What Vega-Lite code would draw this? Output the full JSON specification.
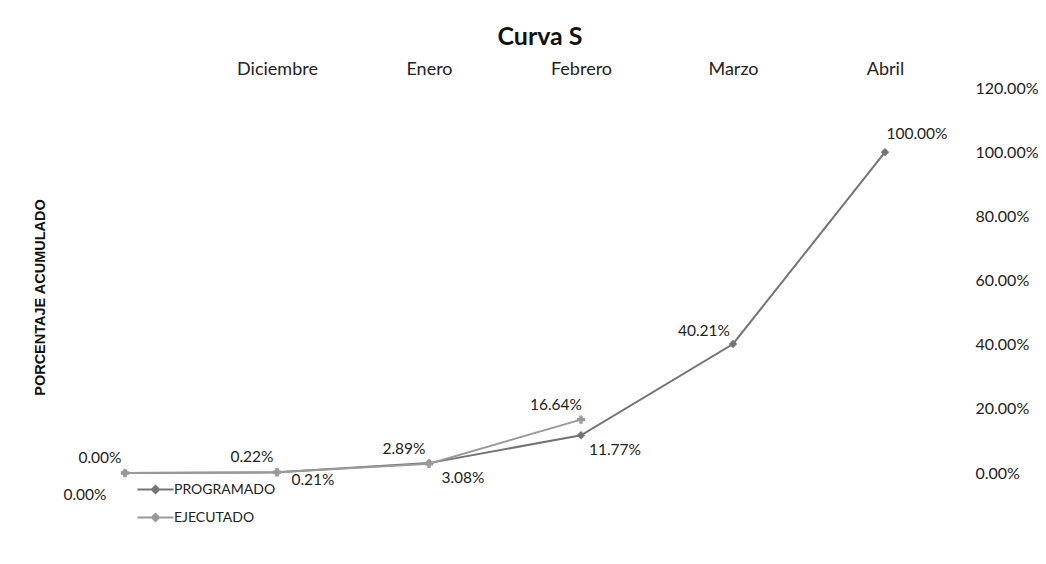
{
  "$schema": "https://vega.github.io/schema/vega-lite/v6.json",
  "width": 912,
  "height": 385,
  "autosize": {"type": "none"},
  "padding": {"left": 49, "top": 88, "right": 85, "bottom": 91},
  "background": "white",
  "config": {"view": {"stroke": null}, "font": "Lato",
    "legend": {"title": null, "orient": "none", "legendX": 93, "legendY": 388, "direction": "vertical", "labelFontSize": 14, "labelFont": "Lato", "labelColor": "#222", "symbolSize": 580, "rowPadding": 6, "symbolStrokeWidth": 2, "labelOffset": 5,
      "symbolType": "M-1.5,0L1.5,0M-0.3,0L0,-0.3L0.3,0L0,0.3Z"}},
  "title": {"text": "Curva S", "font": "Lato", "fontSize": 25, "fontWeight": "bold", "color": "#111", "anchor": "middle", "dx": 35, "offset": 10},
  "data": {"values": [
    {"mes": "Inicio", "serie": "PROGRAMADO", "valor": 0},
    {"mes": "Diciembre", "serie": "PROGRAMADO", "valor": 0.0021},
    {"mes": "Enero", "serie": "PROGRAMADO", "valor": 0.0308},
    {"mes": "Febrero", "serie": "PROGRAMADO", "valor": 0.1177},
    {"mes": "Marzo", "serie": "PROGRAMADO", "valor": 0.4021},
    {"mes": "Abril", "serie": "PROGRAMADO", "valor": 1.0},
    {"mes": "Inicio", "serie": "EJECUTADO", "valor": 0},
    {"mes": "Diciembre", "serie": "EJECUTADO", "valor": 0.0022},
    {"mes": "Enero", "serie": "EJECUTADO", "valor": 0.0289},
    {"mes": "Febrero", "serie": "EJECUTADO", "valor": 0.1664}
  ]},
  "encoding": {
    "x": {"field": "mes", "type": "ordinal", "sort": ["Inicio", "Diciembre", "Enero", "Febrero", "Marzo", "Abril"],
      "scale": {"type": "point", "padding": 0.5},
      "axis": {"orient": "top", "title": null, "ticks": false, "domain": false, "grid": false, "labelAngle": 0, "labelPadding": 10, "labelFontSize": 18, "labelColor": "#222", "labelFont": "Lato",
        "labelExpr": "datum.value == 'Inicio' ? '' : datum.value"}},
    "y": {"field": "valor", "type": "quantitative", "scale": {"domain": [0, 1.2], "nice": false}},
    "color": {"field": "serie", "type": "nominal", "scale": {"domain": ["PROGRAMADO", "EJECUTADO"], "range": ["#747474", "#9a9a9a"]}}
  },
  "layer": [
    {
      "mark": {"type": "line", "strokeWidth": 2},
      "encoding": {
        "y": {"field": "valor", "type": "quantitative", "scale": {"domain": [0, 1.2], "nice": false},
          "axis": {"orient": "right", "title": null, "values": [0, 0.2, 0.4, 0.6, 0.8, 1.0, 1.2], "format": ".2%", "ticks": false, "domain": false, "grid": false, "labelPadding": 14, "labelFontSize": 16, "labelColor": "#222", "labelFont": "Lato"}}
      }
    },
    {
      "transform": [{"filter": "datum.serie == 'PROGRAMADO'"}],
      "mark": {"type": "point", "filled": true, "size": 70, "opacity": 1, "shape": "diamond"},
      "encoding": {
        "y": {"field": "valor", "type": "quantitative", "scale": {"domain": [0, 1.2], "nice": false},
          "axis": {"orient": "left", "title": "PORCENTAJE ACUMULADO", "labels": false, "ticks": false, "domain": false, "grid": false, "titleFont": "Liberation Sans", "titleFontSize": 14.5, "titleFontWeight": "bold", "titleColor": "#111", "titlePadding": 2, "titleY": 209}}
      }
    },
    {
      "transform": [{"filter": "datum.serie == 'EJECUTADO'"}],
      "mark": {"type": "point", "filled": true, "size": 70, "opacity": 1, "shape": "cross"},
      "encoding": {"y": {"field": "valor", "type": "quantitative", "axis": null}}
    },
    {
      "transform": [{"filter": "datum.serie == 'EJECUTADO'"}],
      "mark": {"type": "text", "dx": -25, "dy": -15, "fontSize": 15.5, "font": "Lato", "color": "#222"},
      "encoding": {"y": {"field": "valor", "type": "quantitative", "axis": null}, "text": {"field": "valor", "type": "quantitative", "format": ".2%"}, "color": {"value": "#222"}}
    },
    {
      "transform": [{"filter": "datum.serie == 'PROGRAMADO' && datum.mes == 'Diciembre'"}],
      "mark": {"type": "text", "dx": 36, "dy": 8, "fontSize": 15.5, "font": "Lato", "color": "#222"},
      "encoding": {"y": {"field": "valor", "type": "quantitative", "axis": null}, "text": {"field": "valor", "type": "quantitative", "format": ".2%"}, "color": {"value": "#222"}}
    },
    {
      "transform": [{"filter": "datum.serie == 'PROGRAMADO' && (datum.mes == 'Enero' || datum.mes == 'Febrero')"}],
      "mark": {"type": "text", "dx": 34, "dy": 15, "fontSize": 15.5, "font": "Lato", "color": "#222"},
      "encoding": {"y": {"field": "valor", "type": "quantitative", "axis": null}, "text": {"field": "valor", "type": "quantitative", "format": ".2%"}, "color": {"value": "#222"}}
    },
    {
      "transform": [{"filter": "datum.serie == 'PROGRAMADO' && datum.mes == 'Inicio'"}],
      "mark": {"type": "text", "dx": -40, "dy": 22, "fontSize": 15.5, "font": "Lato", "color": "#222"},
      "encoding": {"y": {"field": "valor", "type": "quantitative", "axis": null}, "text": {"field": "valor", "type": "quantitative", "format": ".2%"}, "color": {"value": "#222"}}
    },
    {
      "transform": [{"filter": "datum.serie == 'PROGRAMADO' && datum.mes == 'Marzo'"}],
      "mark": {"type": "text", "dx": -29, "dy": -13, "fontSize": 15.5, "font": "Lato", "color": "#222"},
      "encoding": {"y": {"field": "valor", "type": "quantitative", "axis": null}, "text": {"field": "valor", "type": "quantitative", "format": ".2%"}, "color": {"value": "#222"}}
    },
    {
      "transform": [{"filter": "datum.serie == 'PROGRAMADO' && datum.mes == 'Abril'"}],
      "mark": {"type": "text", "dx": 32, "dy": -18, "fontSize": 15.5, "font": "Lato", "color": "#222"},
      "encoding": {"y": {"field": "valor", "type": "quantitative", "axis": null}, "text": {"field": "valor", "type": "quantitative", "format": ".2%"}, "color": {"value": "#222"}}
    }
  ],
  "resolve": {"axis": {"y": "independent"}}
}
